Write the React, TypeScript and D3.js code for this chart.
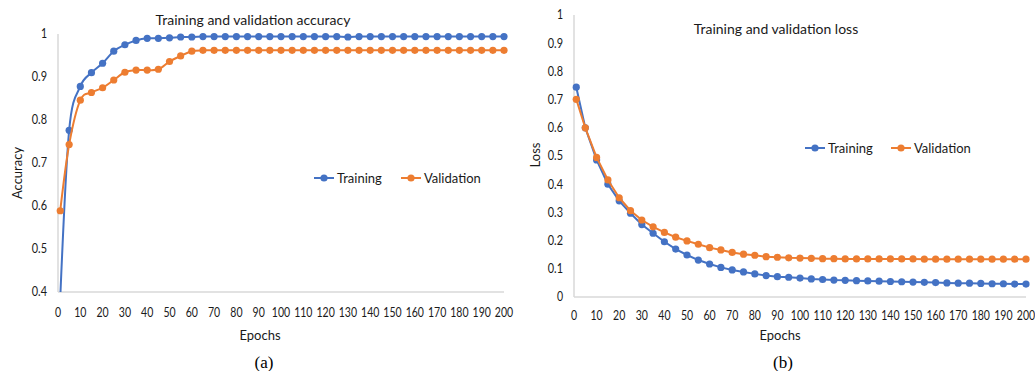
import React from 'react';
import * as d3 from 'd3';

const epochs = [1, 5, 10, 15, 20, 25, 30, 35, 40, 45, 50, 55, 60, 65, 70, 75, 80, 85, 90, 95, 100,
  105, 110, 115, 120, 125, 130, 135, 140, 145, 150, 155, 160, 165, 170, 175, 180, 185, 190, 195, 200];

const accTraining = [0.385, 0.776, 0.878, 0.910, 0.932, 0.960, 0.975, 0.985, 0.990, 0.990, 0.991,
  0.993, 0.993, 0.994, 0.994, 0.994, 0.994, 0.994, 0.994, 0.994, 0.994, 0.994, 0.994, 0.994, 0.994,
  0.994, 0.993, 0.994, 0.994, 0.994, 0.994, 0.994, 0.994, 0.994, 0.994, 0.994, 0.994, 0.994, 0.994, 0.994, 0.994];
const accValidation = [0.589, 0.743, 0.846, 0.864, 0.875, 0.893, 0.911, 0.916, 0.916, 0.918, 0.936,
  0.949, 0.960, 0.962, 0.962, 0.962, 0.962, 0.962, 0.962, 0.962, 0.962, 0.962, 0.962, 0.962, 0.962,
  0.962, 0.962, 0.962, 0.962, 0.962, 0.962, 0.962, 0.962, 0.962, 0.962, 0.962, 0.962, 0.962, 0.962, 0.962, 0.962];

const lossTraining = [0.744, 0.600, 0.486, 0.400, 0.341, 0.297, 0.257, 0.226, 0.196, 0.170, 0.149,
  0.131, 0.117, 0.105, 0.096, 0.089, 0.082, 0.076, 0.072, 0.070, 0.067, 0.064, 0.062, 0.060, 0.059,
  0.058, 0.057, 0.056, 0.055, 0.054, 0.053, 0.052, 0.051, 0.050, 0.049, 0.049, 0.048, 0.047, 0.047, 0.046, 0.046];
const lossValidation = [0.701, 0.600, 0.495, 0.415, 0.352, 0.306, 0.273, 0.249, 0.229, 0.212, 0.199,
  0.187, 0.175, 0.167, 0.158, 0.152, 0.148, 0.143, 0.141, 0.139, 0.138, 0.137, 0.136, 0.136, 0.135,
  0.135, 0.135, 0.135, 0.135, 0.135, 0.135, 0.134, 0.134, 0.134, 0.134, 0.134, 0.134, 0.134, 0.134, 0.134, 0.134];

const xTicks = [0, 10, 20, 30, 40, 50, 60, 70, 80, 90, 100, 110, 120, 130, 140, 150, 160, 170, 180, 190, 200];
const accTicks = [0.4, 0.5, 0.6, 0.7, 0.8, 0.9, 1];
const lossTicks = [0, 0.1, 0.2, 0.3, 0.4, 0.5, 0.6, 0.7, 0.8, 0.9, 1];
const seriesNames = ['Training', 'Validation'];

const BLUE = '#4472C4';
const ORANGE = '#ED7D31';
const AXIS = '#D9D9D9';
const TEXT = '#1a1a1a';
const FONT = 'Lato, sans-serif';

// narrow (Calibri-like) width for tick labels
const labelWidth = (s: string) => s.split('').reduce((w, c) => w + (c === '.' ? 3 : 6.1), 0);

type PanelProps = {
  id: string;
  x0: number; x1: number; yTop: number; yBot: number;
  yDomain: [number, number];
  yTicks: number[];
  series: number[][];
  smooth: boolean;
  title: string; titleX: number; titleY: number;
  yLabel: string; yLabelX: number; yLabelY: number;
  xLabelX: number; xLabelY: number; tickY: number;
  legendY: number; legendX: number[];
  caption: string; captionX: number;
};

function Panel(p: PanelProps) {
  const x = d3.scaleLinear().domain([0, 200]).range([p.x0, p.x1]);
  const y = d3.scaleLinear().domain(p.yDomain).range([p.yBot, p.yTop]);
  const line = d3.line<number>()
    .x((d, i) => x(epochs[i]))
    .y(d => y(d))
    .curve(p.smooth ? d3.curveCatmullRom.alpha(0) : d3.curveLinear);
  const colors = [BLUE, ORANGE];
  const fmt = d3.format('~g');
  return (
    <g>
      <defs>
        <clipPath id={p.id}>
          <rect x={p.x0 - 6} y={p.yTop - 6} width={p.x1 - p.x0 + 12} height={p.yBot - p.yTop + 6} />
        </clipPath>
      </defs>
      <text x={p.titleX} y={p.titleY} dy="0.35em" textAnchor="middle" fontSize={14} fill={TEXT}>{p.title}</text>
      {p.yTicks.map(t => (
        <text key={t} x={p.x0 - 11} y={y(t)} dy="0.35em" textAnchor="end" fontSize={12.5} fill={TEXT}
          textLength={labelWidth(fmt(t))} lengthAdjust="spacingAndGlyphs">{fmt(t)}</text>
      ))}
      {xTicks.map(t => (
        <text key={t} x={x(t)} y={p.tickY} dy="0.35em" textAnchor="middle" fontSize={12.5} fill={TEXT}
          textLength={labelWidth(String(t))} lengthAdjust="spacingAndGlyphs">{t}</text>
      ))}
      <line x1={p.x0} x2={p.x0} y1={p.yTop} y2={p.yBot} stroke={AXIS} strokeWidth={1.5} />
      <line x1={p.x0} x2={p.x1} y1={p.yBot} y2={p.yBot} stroke={AXIS} strokeWidth={1.5} />
      <g clipPath={`url(#${p.id})`}>
        {p.series.map((s, k) => (
          <g key={k}>
            <path d={line(s) || ''} fill="none" stroke={colors[k]} strokeWidth={2} />
            {s.map((v, i) => (
              <circle key={i} cx={x(epochs[i])} cy={y(v)} r={3.6} fill={colors[k]} />
            ))}
          </g>
        ))}
      </g>
      <text transform={`translate(${p.yLabelX},${p.yLabelY}) rotate(-90)`} textAnchor="middle" dy="0.35em" fontSize={13} fill={TEXT}>{p.yLabel}</text>
      <text x={p.xLabelX} y={p.xLabelY} dy="0.35em" textAnchor="middle" fontSize={13} fill={TEXT}>Epochs</text>
      {seriesNames.map((n, k) => (
        <g key={n}>
          <line x1={p.legendX[k] - 10} x2={p.legendX[k] + 10} y1={p.legendY} y2={p.legendY} stroke={colors[k]} strokeWidth={2} />
          <circle cx={p.legendX[k]} cy={p.legendY} r={3.6} fill={colors[k]} />
          <text x={p.legendX[k] + 13} y={p.legendY} dy="0.35em" fontSize={13} fill={TEXT}>{n}</text>
        </g>
      ))}
      <text x={p.captionX} y={362} dy="0.35em" textAnchor="middle" fontSize={17} fill="#000"
        fontFamily="'Liberation Serif', 'DejaVu Serif', serif">{p.caption}</text>
    </g>
  );
}

export default function App() {
  return (
    <div style={{ position: 'fixed', left: 0, top: 0 }}>
      <svg width={1035} height={371} style={{ display: 'block', background: '#fff', fontFamily: FONT }}>
        <Panel id="clipA" x0={58} x1={504} yTop={34} yBot={292} yDomain={[0.4, 1]} yTicks={accTicks}
          series={[accTraining, accValidation]} smooth={true}
          title="Training and validation accuracy" titleX={253} titleY={20}
          yLabel="Accuracy" yLabelX={17} yLabelY={173}
          xLabelX={260} xLabelY={335} tickY={313}
          legendY={178} legendX={[324, 411]} caption="(a)" captionX={264} />
        <Panel id="clipB" x0={574} x1={1026} yTop={15} yBot={297} yDomain={[0, 1]} yTicks={lossTicks}
          series={[lossTraining, lossValidation]} smooth={false}
          title="Training and validation loss" titleX={776} titleY={29}
          yLabel="Loss" yLabelX={535} yLabelY={155}
          xLabelX={780} xLabelY={335} tickY={316}
          legendY={148} legendX={[815, 901]} caption="(b)" captionX={783} />
      </svg>
    </div>
  );
}
